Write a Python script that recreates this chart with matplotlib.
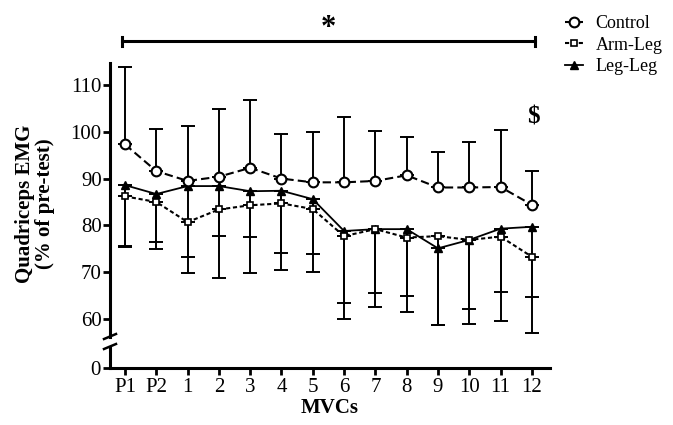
import numpy as np
import matplotlib
matplotlib.use("Agg")
import matplotlib.pyplot as plt
from matplotlib.lines import Line2D

plt.rcParams["font.family"] = ["Liberation Serif", "DejaVu Serif"]

# dados
labels = ["P1", "P2", "1", "2", "3", "4", "5", "6", "7", "8", "9", "10", "11", "12"]
control = [97.3, 91.6, 89.5, 90.4, 92.3, 90.0, 89.2, 89.2, 89.5, 90.7, 88.1, 88.1, 88.2, 84.4]
control_sd = [16.6, 9.1, 11.7, 14.5, 14.5, 9.5, 10.7, 14.0, 10.6, 8.2, 7.5, 9.7, 12.2, 7.2]
arm_leg = [86.2, 85.0, 80.7, 83.4, 84.3, 84.7, 83.5, 77.7, 79.2, 77.4, 77.7, 76.9, 77.6, 73.3]
arm_leg_sd = [10.7, 8.6, 7.4, 5.7, 6.7, 10.5, 9.7, 14.2, 13.7, 12.4, 19.0, 14.8, 11.8, 8.5]
leg_leg = [88.6, 86.7, 88.4, 88.4, 87.3, 87.4, 85.6, 78.8, 79.2, 79.2, 75.1, 76.9, 79.3, 79.7]
leg_leg_sd = [13.3, 11.7, 18.6, 19.7, 17.4, 16.9, 15.6, 18.7, 16.6, 17.7, 16.4, 18.0, 19.8, 22.8]

W, H = 673, 425
fig = plt.figure(figsize=(W / 100, H / 100), dpi=100)

left, right = 110 / W, 550 / W
ax = fig.add_axes([left, 1 - 337 / H, right - left, (337 - 63) / H])
ax0 = fig.add_axes([left, 1 - 368 / H, right - left, (368 - 347) / H], sharex=ax)

x = np.arange(len(labels))
zeros = np.zeros(len(labels))
err_kw = dict(fmt="none", ecolor="black", elinewidth=1.4, capsize=5, capthick=1.4, zorder=2)

ax.errorbar(x, control, yerr=[zeros, control_sd], **err_kw)
ax.errorbar(x, arm_leg, yerr=[arm_leg_sd, zeros], **err_kw)
ax.errorbar(x, leg_leg, yerr=[leg_leg_sd, zeros], **err_kw)

ax.plot(x, leg_leg, color="black", lw=1.3, ls="-", marker="^", ms=5.5,
        mfc="black", mec="black", label="Leg-Leg", zorder=3)
ax.plot(x, arm_leg, color="black", lw=1.5, ls=(0, (2, 1.3)), marker="s", ms=5,
        mfc="white", mec="black", mew=1.2, label="Arm-Leg", zorder=4)
ax.plot(x, control, color="black", lw=1.5, ls=(0, (4, 2)), marker="o", ms=7,
        mfc="white", mec="black", mew=1.5, label="Control", zorder=5)

ax.set_xlim(-0.48, 13.58)
ax.set_ylim(56.15, 114.7)
ax.set_yticks([60, 70, 80, 90, 100, 110])
for s in ["top", "right", "bottom"]:
    ax.spines[s].set_visible(False)
ax.spines["left"].set_linewidth(2.2)
ax.tick_params(axis="y", width=2, length=5, pad=1, labelsize=15)
ax.tick_params(axis="x", bottom=False, labelbottom=False)

ax0.set_ylim(0, 1)
ax0.set_yticks([0])
for s in ["top", "right"]:
    ax0.spines[s].set_visible(False)
ax0.spines["left"].set_linewidth(2.2)
ax0.spines["bottom"].set_linewidth(2.2)
ax0.set_xticks(x)
ax0.set_xticklabels(labels)
ax0.tick_params(width=2, length=5, pad=2, labelsize=15)
ax0.set_xlabel("MVCs", fontsize=15, fontweight="bold", labelpad=1)

# marcas de quebra do eixo
for y0 in (339, 349):
    fig.add_artist(Line2D([104 / W, 116 / W], [1 - y0 / H, 1 - (y0 - 5) / H],
                          color="black", lw=1.8))

fig.text(35 / W, 1 - 204 / H, "Quadriceps EMG\n(% of pre-test)", rotation=90,
         ha="center", va="center", fontsize=15, fontweight="bold", linespacing=1.0)

# barra de significância
ax.plot([-0.1, 13.1], [119.3, 119.3], color="black", lw=2.2, clip_on=False)
for xe in (-0.1, 13.1):
    ax.plot([xe, xe], [118.3, 120.3], color="black", lw=2.2, clip_on=False)
ax.text(6.5, 122.0, "*", ha="center", va="center", fontsize=22, fontweight="bold")
ax.text(13.05, 103.2, "$", ha="center", va="center", fontsize=18, fontweight="bold")

handles, lbls = ax.get_legend_handles_labels()
order = [2, 1, 0]
fig.legend([handles[i] for i in order], [lbls[i] for i in order],
           loc="upper left", bbox_to_anchor=(565 / W, 1 - 15 / H), frameon=False,
           fontsize=13, handlelength=1.0, handletextpad=0.7, labelspacing=0.25,
           borderaxespad=0, borderpad=0)

fig.savefig("out.png", dpi=100)
